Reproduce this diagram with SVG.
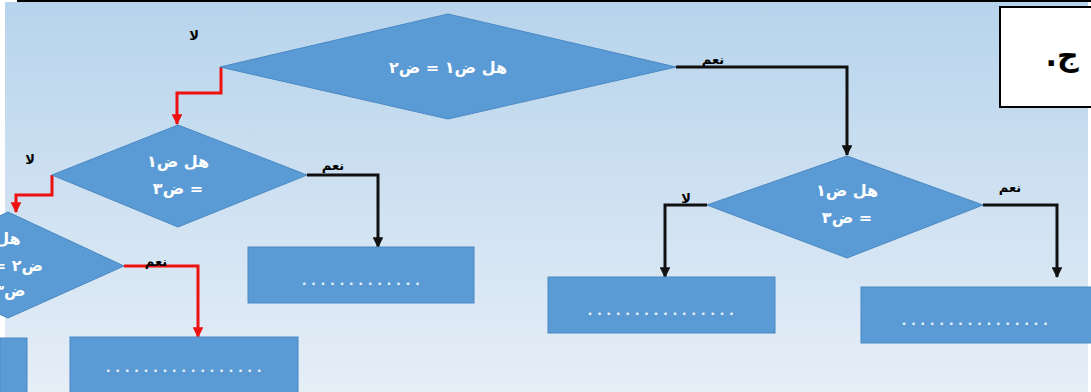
<svg xmlns="http://www.w3.org/2000/svg" width="1091" height="392" viewBox="0 0 1091 392">
<style>
.node{fill:#5b9bd5;stroke:#4a88c2;stroke-width:1}
.t{font-family:"DejaVu Sans",sans-serif;font-weight:bold;font-size:16px;fill:#ffffff;text-anchor:middle;direction:rtl}
.dots{font-family:"DejaVu Sans",sans-serif;font-weight:bold;font-size:13px;fill:#e8f2fb;text-anchor:middle;letter-spacing:4.5px}
.lbl{font-family:"DejaVu Sans",sans-serif;font-weight:bold;font-size:13px;fill:#000000;text-anchor:middle;direction:rtl}
.red{fill:none;stroke:#ee1111;stroke-width:3}
.blk{fill:none;stroke:#111111;stroke-width:3}
</style>
<defs>
<linearGradient id="bg" x1="0" y1="0" x2="0" y2="1">
<stop offset="0" stop-color="#b7d4ec"/>
<stop offset="1" stop-color="#e6eef7"/>
</linearGradient>
<marker id="ar" viewBox="0 0 10 10" refX="9" refY="5" markerWidth="4" markerHeight="3.6" orient="auto" markerUnits="strokeWidth">
<path d="M0,0 L10,5 L0,10 z" fill="#ee1111"/>
</marker>
<marker id="ab" viewBox="0 0 10 10" refX="9" refY="5" markerWidth="4" markerHeight="3.6" orient="auto" markerUnits="strokeWidth">
<path d="M0,0 L10,5 L0,10 z" fill="#111111"/>
</marker>
</defs>
<rect x="0" y="0" width="1091" height="392" fill="#ffffff"/>
<rect x="5" y="2" width="1083" height="390" fill="url(#bg)"/>
<line x1="17" y1="1" x2="1091" y2="1" stroke="#000" stroke-width="2"/>

<g id="label-box">
<rect x="1000" y="7" width="95" height="100" fill="#ffffff" stroke="#000" stroke-width="2"/>
<text x="1062" y="66" style="font-family:'DejaVu Sans',sans-serif;font-weight:bold;font-size:30px;fill:#000;text-anchor:middle;direction:rtl">ج.</text>
</g>

<g id="connectors">
<polyline class="red" points="221,67 221,93 177,93 177,124" marker-end="url(#ar)"/>
<polyline class="red" points="52,175 52,195 16,195 16,212" marker-end="url(#ar)"/>
<polyline class="red" points="124,266 198,266 198,337" marker-end="url(#ar)"/>
<polyline class="blk" points="307,175 378,175 378,247" marker-end="url(#ab)"/>
<polyline class="blk" points="676,67 847,67 847,155" marker-end="url(#ab)"/>
<polyline class="blk" points="707,205 665,205 665,277" marker-end="url(#ab)"/>
<polyline class="blk" points="983,205 1057,205 1057,277" marker-end="url(#ab)"/>
<text class="lbl" x="194" y="40">لا</text>
<text class="lbl" x="30" y="164">لا</text>
<text class="lbl" x="156" y="266">نعم</text>
<text class="lbl" x="333" y="170">نعم</text>
<text class="lbl" x="713" y="64">نعم</text>
<text class="lbl" x="686" y="203">لا</text>
<text class="lbl" x="1010" y="192">نعم</text>
</g>

<g id="d1">
<polygon class="node" points="448,14 676,67 448,119 220,67"/>
<text class="t" x="448" y="73">هل ض١ = ض٢</text>
</g>
<g id="d2">
<polygon class="node" points="178,125 307,175 178,227 52,175"/>
<text class="t" x="178" y="167">هل ض١</text>
<text class="t" x="178" y="194">= ض٣</text>
</g>
<g id="d3">
<polygon class="node" points="8,212 124,266 8,318 -108,266"/>
<text class="t" x="8" y="244">هل</text>
<text class="t" x="18" y="271">ض٢ =</text>
<text class="t" x="10" y="296">ض٣</text>
</g>
<g id="d4">
<polygon class="node" points="847,156 983,205 847,258 707,205"/>
<text class="t" x="847" y="196">هل ض١</text>
<text class="t" x="847" y="223">= ض٣</text>
</g>

<g id="b1">
<rect class="node" x="248" y="247" width="226" height="56"/>
<text class="dots" x="363" y="285">.............</text>
</g>
<g id="b2">
<rect class="node" x="70" y="337" width="228" height="60"/>
<text class="dots" x="186" y="372">.................</text>
</g>
<g id="b3">
<rect class="node" x="548" y="277" width="227" height="56"/>
<text class="dots" x="663" y="315">................</text>
</g>
<g id="b4">
<rect class="node" x="861" y="287" width="235" height="56"/>
<text class="dots" x="977" y="325">................</text>
</g>
<g id="b5">
<rect class="node" x="0" y="338" width="27" height="60"/>
</g>
</svg>
